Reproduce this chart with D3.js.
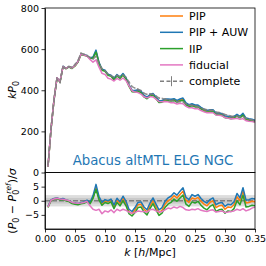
<!DOCTYPE html>
<meta charset="utf-8">
<style>
  body{margin:0;background:#fff;}
  text{font-family:"DejaVu Sans",sans-serif;fill:#000;}
  .axis path,.axis line{stroke:#000;stroke-width:0.8;}
  .axis text{font-size:9.5px;}
</style>
<body>
<div id="container"></div>
<script src="https://d3js.org/d3.v7.min.js"></script>
<script>

var k = [0.005,0.01,0.015,0.02,0.025,0.03,0.035,0.04,0.045,0.05,
  0.055,0.06,0.065,0.07,0.075,0.08,0.085,0.09,0.095,0.1,
  0.105,0.11,0.115,0.12,0.125,0.13,0.135,0.14,0.145,0.15,
  0.155,0.16,0.165,0.17,0.175,0.18,0.185,0.19,0.195,0.2,
  0.205,0.21,0.215,0.22,0.225,0.23,0.235,0.24,0.245,0.25,
  0.255,0.26,0.265,0.27,0.275,0.28,0.285,0.29,0.295,0.3,
  0.305,0.31,0.315,0.32,0.325,0.33,0.335,0.34,0.345,0.35];

// kP0 of the complete sample and its error bar
var complete = [35,210,350,455,438,512,505,515,512,525,
  545,580,575,568,560,552,565,528,505,495,
  478,470,465,472,466,474,462,440,418,410,
  405,398,385,380,383,380,372,362,360,358,
  354,350,348,343,344,344,334,328,326,322,
  320,314,309,305,304,302,294,292,288,282,
  278,275,274,274,270,272,264,260,256,252];

var sigma = [3,5,6,6,6,6,6,6,6,6,
  5.5,5.5,5.5,5.5,5.5,5.2,5.2,5.2,5,5,
  5,5,4.8,4.8,4.8,4.8,4.6,4.6,4.6,4.5,
  4.5,4.4,4.4,4.3,4.3,4.2,4.2,4.2,4.1,4.1,
  4,4,4,3.9,3.9,3.9,3.8,3.8,3.8,3.8,
  3.7,3.7,3.7,3.7,3.6,3.6,3.6,3.6,3.5,3.5,
  3.5,3.5,3.5,3.4,3.4,3.4,3.4,3.4,3.3,3.3];

// residuals (P0 - P0ref)/sigma
var resPIP = [-2.2,0.2,0.7,0.9,0.5,0.6,0.2,-0.1,-0.8,-1.0,
  -1.2,-0.9,-0.6,0.0,-0.8,1.2,4.6,0.9,-1.0,0.0,
  -0.4,0.2,-2.0,0.2,-1.0,0.8,-1.0,-3.8,-4.6,-3.2,
  -1.4,-1.2,-3.0,-4.0,-1.8,0.0,-2.2,-4.2,-3.4,-1.2,
  0.0,0.6,1.8,1.0,2.2,3.4,0.2,-0.6,1.0,0.6,
  1.2,-0.2,-1.2,-1.8,-0.6,0.0,-2.4,-1.8,-1.6,-3.0,
  -2.2,-2.4,-1.4,1.4,0.0,3.4,-0.8,-0.6,-0.2,-0.4];

var resAUW = [-2.0,0.3,0.8,1.0,0.6,0.8,0.3,0.0,-0.6,-0.8,
  -1.0,-0.7,-0.4,0.2,-0.6,1.8,5.8,1.5,-0.6,0.4,
  0.0,0.6,-1.5,0.9,-0.4,1.6,-0.2,-3.0,-3.8,-2.4,
  -0.6,-0.4,-2.2,-3.2,-0.8,1.0,-1.2,-3.2,-2.4,-0.2,
  1.0,1.6,2.8,2.0,3.4,4.6,1.2,0.4,2.2,1.6,
  2.2,0.8,-0.2,-0.8,0.4,1.0,-1.4,-0.8,-0.6,-2.0,
  -1.2,-1.4,-0.4,2.6,1.0,4.6,0.2,0.4,0.8,0.6];

var resIIP = [-2.4,0.0,0.5,0.7,0.3,0.4,0.0,-0.3,-1.0,-1.2,
  -1.4,-1.1,-0.9,-0.3,-1.1,0.8,4.0,0.3,-1.6,-0.6,
  -1.0,-0.4,-2.8,-0.6,-1.8,0.0,-1.8,-4.6,-5.4,-4.2,
  -2.4,-2.2,-4.0,-5.0,-2.8,-1.0,-3.2,-5.2,-4.4,-2.4,
  -1.2,-0.6,0.6,-0.2,1.0,2.0,-1.2,-2.0,-0.4,-0.8,
  -0.2,-1.6,-2.6,-3.2,-2.0,-1.4,-3.8,-3.2,-3.0,-4.4,
  -3.6,-3.8,-2.8,0.0,-1.4,2.0,-2.2,-2.0,-1.6,-1.8];

var resFid = [-2.2,0.2,0.6,0.9,0.6,0.5,0.3,0.0,-0.6,-0.8,
  -0.9,-0.8,-0.6,-0.2,-1.8,-3.0,-3.4,-3.0,-4.6,-3.6,
  -4.0,-3.2,-4.2,-3.0,-3.6,-3.0,-3.4,-4.0,-4.4,-4.2,
  -3.6,-3.8,-3.8,-4.0,-3.2,-3.0,-3.6,-4.0,-3.8,-3.2,
  -2.6,-2.8,-2.2,-2.6,-2.0,-2.4,-3.2,-3.4,-3.0,-3.2,
  -2.8,-3.4,-3.6,-3.8,-3.4,-3.2,-4.0,-3.8,-3.6,-4.2,
  -4.0,-3.8,-3.6,-3.0,-3.4,-2.8,-3.6,-3.2,-2.6,-2.2];

var labels = ['PIP','PIP + AUW','IIP','fiducial','complete'];
var colors = ['#ff7f0e','#1f77b4','#2ca02c','#e377c2','#7f7f7f'];
var residuals = [resPIP, resAUW, resIIP, resFid];

var xTicks = [0,0.05,0.1,0.15,0.2,0.25,0.3,0.35];
var yTopTicks = [0,200,400,600,800];
var yBotTicks = [-5,0,5];

var W = 266, H = 266;
var pxLeft = 45, pxRight = 255, pxTop = 8, pxMid = 172.5, pxBottom = 229;

var svg = d3.select('#container').append('svg').attr('width',W).attr('height',H);

var x = d3.scaleLinear().domain([0,0.35]).range([pxLeft,pxRight]);
var yTop = d3.scaleLinear().domain([0,800]).range([pxMid,pxTop]);
var yBot = d3.scaleLinear().domain([-10,10]).range([pxBottom,pxMid]);

svg.append('clipPath').attr('id','clipTop').append('rect')
  .attr('x',pxLeft).attr('y',pxTop).attr('width',pxRight-pxLeft).attr('height',pxMid-pxTop);
svg.append('clipPath').attr('id','clipBot').append('rect')
  .attr('x',pxLeft).attr('y',pxMid).attr('width',pxRight-pxLeft).attr('height',pxBottom-pxMid);

var gTop = svg.append('g').attr('clip-path','url(#clipTop)');
var gBot = svg.append('g').attr('clip-path','url(#clipBot)');

// top panel: kP0
var lineTop = d3.line().x(function(d){ return x(d[0]); }).y(function(d){ return yTop(d[1]); });

residuals.forEach(function(r,i){
  var pts = k.map(function(kk,j){ return [kk, complete[j] + r[j]*sigma[j]]; });
  gTop.append('path').datum(pts)
    .attr('d',lineTop).attr('fill','none')
    .attr('stroke',colors[i]).attr('stroke-width',1.5).attr('stroke-linejoin','round');
});

gTop.selectAll('line.err').data(k).enter().append('line')
  .attr('x1',function(d){ return x(d); }).attr('x2',function(d){ return x(d); })
  .attr('y1',function(d,j){ return yTop(complete[j]-sigma[j]); })
  .attr('y2',function(d,j){ return yTop(complete[j]+sigma[j]); })
  .attr('stroke',colors[4]).attr('stroke-opacity',0.6).attr('stroke-width',1);

gTop.append('path').datum(k.map(function(kk,j){ return [kk, complete[j]]; }))
  .attr('d',lineTop).attr('fill','none')
  .attr('stroke',colors[4]).attr('stroke-opacity',0.85).attr('stroke-width',1.5)
  .attr('stroke-dasharray','5,2');

// bottom panel: residuals
gBot.append('rect').attr('x',pxLeft).attr('width',pxRight-pxLeft)
  .attr('y',yBot(2)).attr('height',yBot(-2)-yBot(2)).attr('fill','#dddddd');
gBot.append('rect').attr('x',pxLeft).attr('width',pxRight-pxLeft)
  .attr('y',yBot(1)).attr('height',yBot(-1)-yBot(1)).attr('fill','#c9c9c9');
gBot.append('line').attr('x1',pxLeft).attr('x2',pxRight)
  .attr('y1',yBot(0)).attr('y2',yBot(0))
  .attr('stroke',colors[4]).attr('stroke-width',1.5).attr('stroke-dasharray','5,2');

var lineBot = d3.line().x(function(d){ return x(d[0]); }).y(function(d){ return yBot(d[1]); });

residuals.forEach(function(r,i){
  gBot.append('path').datum(k.map(function(kk,j){ return [kk, r[j]]; }))
    .attr('d',lineBot).attr('fill','none')
    .attr('stroke',colors[i]).attr('stroke-width',1.5).attr('stroke-linejoin','round');
});

// axes
var minus = function(d){ return d < 0 ? '\u2212' + Math.abs(d) : d; };

svg.append('g').attr('class','axis').attr('transform','translate(0,'+pxBottom+')')
  .call(d3.axisBottom(x).tickValues(xTicks).tickFormat(d3.format('.2f')).tickSize(3.5).tickPadding(2.5).tickSizeOuter(0));
svg.append('g').attr('class','axis').attr('transform','translate('+pxLeft+',0)')
  .call(d3.axisLeft(yTop).tickValues(yTopTicks).tickSize(3.5).tickPadding(2.5).tickSizeOuter(0));
svg.append('g').attr('class','axis').attr('transform','translate('+pxLeft+',0)')
  .call(d3.axisLeft(yBot).tickValues(yBotTicks).tickFormat(minus).tickSize(3.5).tickPadding(2.5).tickSizeOuter(0));

svg.append('rect').attr('x',pxLeft).attr('y',pxTop).attr('width',pxRight-pxLeft).attr('height',pxMid-pxTop)
  .attr('fill','none').attr('stroke','#000').attr('stroke-width',0.8);
svg.append('rect').attr('x',pxLeft).attr('y',pxMid).attr('width',pxRight-pxLeft).attr('height',pxBottom-pxMid)
  .attr('fill','none').attr('stroke','#000').attr('stroke-width',0.8);

// title inside the top panel
svg.append('text').attr('x',153).attr('y',165).attr('text-anchor','middle')
  .style('font-size','13.3px').style('fill','#1f77b4').text('Abacus altMTL ELG NGC');

// legend
var legend = svg.append('g');
labels.forEach(function(l,i){
  var ly = 16 + i*16.3;
  if(i < 4){
    legend.append('line').attr('x1',160).attr('x2',183).attr('y1',ly).attr('y2',ly)
      .attr('stroke',colors[i]).attr('stroke-width',1.5);
  }else{
    legend.append('line').attr('x1',160).attr('x2',183).attr('y1',ly).attr('y2',ly)
      .attr('stroke',colors[i]).attr('stroke-width',1.5).attr('stroke-dasharray','4,2.5');
    legend.append('line').attr('x1',171.5).attr('x2',171.5).attr('y1',ly-5).attr('y2',ly+5)
      .attr('stroke',colors[i]).attr('stroke-width',1);
  }
  legend.append('text').attr('x',189).attr('y',ly+4).style('font-size','11px').text(l);
});

// axis labels
var xl = svg.append('text').attr('x',150).attr('y',256).attr('text-anchor','middle').style('font-size','11px');
xl.append('tspan').style('font-style','italic').text('k');
xl.append('tspan').text(' [');
xl.append('tspan').style('font-style','italic').text('h');
xl.append('tspan').text('/Mpc]');

var yl = svg.append('text').attr('transform','translate(16,90) rotate(-90)')
  .attr('text-anchor','middle').style('font-size','11px');
yl.append('tspan').style('font-style','italic').text('kP');
yl.append('tspan').attr('dy',2.5).style('font-size','8px').text('0');

var yl2 = svg.append('text').attr('transform','translate(16,201) rotate(-90)')
  .attr('text-anchor','middle').style('font-size','11px');
yl2.append('tspan').text('(');
yl2.append('tspan').style('font-style','italic').text('P');
yl2.append('tspan').attr('dy',2.5).style('font-size','8px').text('0');
yl2.append('tspan').attr('dy',-2.5).text(' \u2212 ');
yl2.append('tspan').style('font-style','italic').text('P');
yl2.append('tspan').attr('dy',2.5).style('font-size','8px').text('0');
yl2.append('tspan').attr('dx',-4).attr('dy',-7.5).style('font-size','7.5px').style('font-style','italic').text('ref');
yl2.append('tspan').attr('dy',5).text(')/');
yl2.append('tspan').style('font-style','italic').text('\u03c3');

</script>
</body>
